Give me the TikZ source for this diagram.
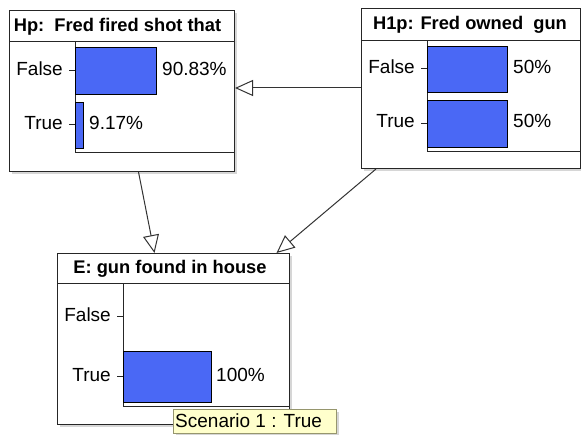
\documentclass[tikz,border=0pt]{standalone}
\usepackage{fontspec}
\setmainfont{Liberation Sans}
\usetikzlibrary{arrows.meta}
\definecolor{barblue}{RGB}{74,104,245}
\definecolor{shadowgray}{RGB}{214,214,214}
\definecolor{tipfill}{RGB}{255,255,204}
\definecolor{tipdraw}{RGB}{150,150,110}
\tikzset{
  nodebox/.style={draw=black!85, line width=1pt, fill=white, inner sep=0pt, anchor=north west},
  shadowbox/.style={fill=shadowgray, draw=none, inner sep=0pt, anchor=north west},
  titletext/.style={font=\fontsize{18.3}{20}\selectfont\bfseries, anchor=base, inner sep=0pt},
  statetext/.style={font=\fontsize{19}{21}\selectfont, anchor=base east, inner sep=0pt},
  pcttext/.style={font=\fontsize{19}{21}\selectfont, anchor=base west, inner sep=0pt},
  bar/.style={draw=black, line width=0.9pt, fill=barblue, inner sep=0pt, anchor=north west},
  axisline/.style={draw=black!85, line width=1pt},
  tick/.style={draw=black!85, line width=1pt},
  link/.style={draw=black!80, line width=1pt, -{Triangle[open, length=18pt, width=16pt, fill=white]}},
}
\begin{document}
\begin{tikzpicture}[x=1pt, y=-1pt]
\useasboundingbox (0,0) rectangle (581,435);
\fill[white] (0,0) rectangle (581,435);

% ---------- Hp ----------
\node[shadowbox, minimum width=225pt, minimum height=161pt] at (12,13) {};
\node[nodebox, minimum width=225pt, minimum height=161pt] (hp) at (9,10) {};
\draw[axisline] (9,42) -- (234,42);
\node[titletext] (hpT) at (117.5,31.7) {Hp:\ \ Fred fired shot that};
\draw[axisline] (75,42) -- (75,153) -- (234,153);
\node[bar, minimum width=81pt, minimum height=47pt] (hpF) at (75,47) {};
\node[bar, minimum width=8pt, minimum height=46pt] (hpTr) at (75,102) {};
\node[statetext] (hpFl) at (63,76) {False};
\node[statetext] (hpTl) at (63,130) {True};
\draw[tick] (69,70.5) -- (75,70.5);
\draw[tick] (69,125) -- (75,125);
\node[pcttext] (hpFp) at (162,76) {90.83\%};
\node[pcttext] (hpTp) at (89,130) {9.17\%};

% ---------- H1p ----------
\node[shadowbox, minimum width=219pt, minimum height=160pt] at (364,11) {};
\node[nodebox, minimum width=219pt, minimum height=160pt] (h1p) at (361,8) {};
\draw[axisline] (361,41) -- (580,41);
\node[titletext] (h1pT) at (470,30) {H1p: Fred owned\ \ gun};
\draw[axisline] (427,41) -- (427,152) -- (580,152);
\node[bar, minimum width=80pt, minimum height=46pt] (h1pF) at (427,46) {};
\node[bar, minimum width=80pt, minimum height=47pt] (h1pTr) at (427,100) {};
\node[statetext] (h1pFl) at (415,74) {False};
\node[statetext] (h1pTl) at (415,128) {True};
\draw[tick] (421,69) -- (427,69);
\draw[tick] (421,123.5) -- (427,123.5);
\node[pcttext] (h1pFp) at (513,74) {50\%};
\node[pcttext] (h1pTp) at (513,128) {50\%};

% ---------- E ----------
\node[shadowbox, minimum width=232pt, minimum height=171pt] at (60,256) {};
\node[nodebox, minimum width=232pt, minimum height=171pt] (e) at (57,253) {};
\draw[axisline] (57,284) -- (289,284);
\node[titletext] (eT) at (170,274) {E: gun found in house};
\draw[axisline] (123,284) -- (123,407) -- (289,407);
\node[bar, minimum width=88pt, minimum height=51pt] (eTr) at (123,351) {};
\node[statetext] (eFl) at (111,322) {False};
\node[statetext] (eTl) at (111,382) {True};
\draw[tick] (117,316.5) -- (123,316.5);
\draw[tick] (117,376.5) -- (123,376.5);
\node[pcttext] (eTp) at (216,382) {100\%};

% ---------- tooltip ----------
\fill[shadowgray] (176,412) rectangle (339,436);
\node[draw=tipdraw, fill=tipfill, line width=0.8pt, inner sep=0pt, anchor=north west,
      minimum width=163pt, minimum height=24pt] (tip) at (173,409) {};
\node[font=\fontsize{19}{21}\selectfont, anchor=base west, inner sep=0pt] (tipT) at (175,428) {Scenario 1 : True};

% ---------- links ----------
\draw[link] (h1p.west |- 0,88) -- (hp.east |- 0,88);
\draw[link] ([xshift=16.5pt]hp.south) -- ([xshift=-19pt]e.north);
\draw[link] ([xshift=-95pt]h1p.south) -- ([xshift=103pt]e.north);
\end{tikzpicture}
\end{document}
